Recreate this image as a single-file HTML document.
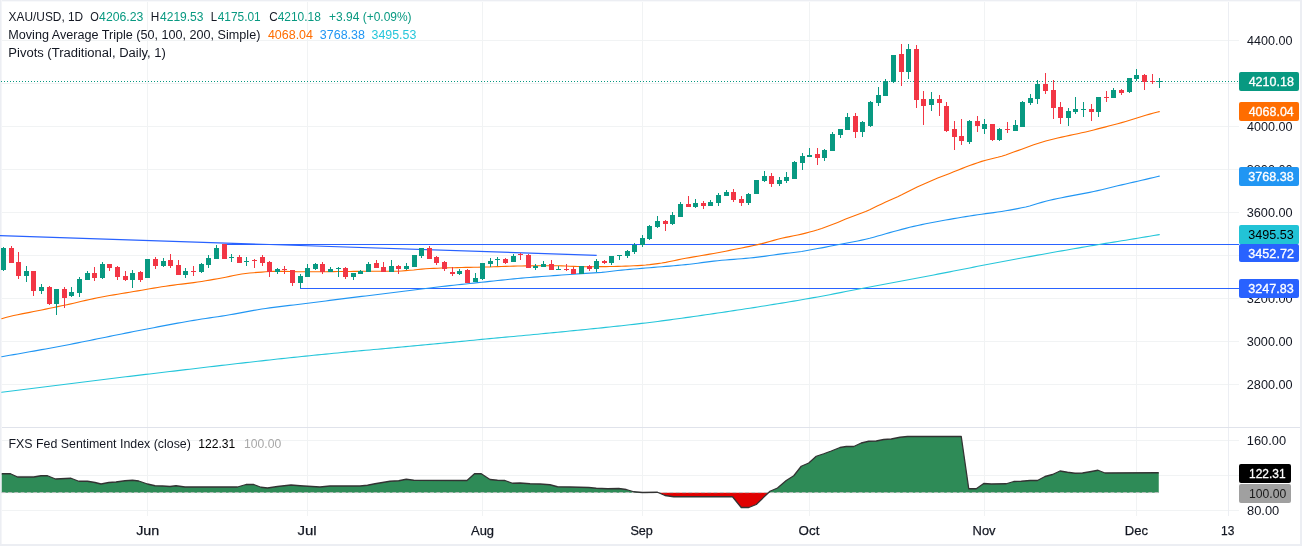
<!DOCTYPE html>
<html><head><meta charset="utf-8"><title>XAU/USD chart</title>
<style>html,body{margin:0;padding:0;background:#fff;}svg{display:block}</style></head>
<body><svg width="1302" height="546" viewBox="0 0 1302 546" font-family="Liberation Sans, sans-serif">
<rect width="1302" height="546" fill="#fff"/>
<g shape-rendering="crispEdges" fill="#f1f3f4">
<rect x="0" y="40" width="1239" height="1"/>
<rect x="0" y="83" width="1239" height="1"/>
<rect x="0" y="126" width="1239" height="1"/>
<rect x="0" y="169" width="1239" height="1"/>
<rect x="0" y="212" width="1239" height="1"/>
<rect x="0" y="255" width="1239" height="1"/>
<rect x="0" y="298" width="1239" height="1"/>
<rect x="0" y="341" width="1239" height="1"/>
<rect x="0" y="384" width="1239" height="1"/>
<rect x="0" y="440" width="1239" height="1"/>
<rect x="0" y="475" width="1239" height="1"/>
<rect x="0" y="510" width="1239" height="1"/>
<rect x="147" y="0" width="1" height="516"/>
<rect x="307" y="0" width="1" height="516"/>
<rect x="482" y="0" width="1" height="516"/>
<rect x="642" y="0" width="1" height="516"/>
<rect x="809" y="0" width="1" height="516"/>
<rect x="984" y="0" width="1" height="516"/>
<rect x="1136" y="0" width="1" height="516"/>
</g>
<g shape-rendering="crispEdges">
<rect x="1228" y="0" width="1" height="516" fill="#eceef3"/>
<rect x="0" y="427" width="1302" height="1" fill="#e0e3eb"/>
</g>
<g shape-rendering="crispEdges"><rect x="0" y="0" width="1302" height="1" fill="#eceef3"/><rect x="0" y="1" width="1302" height="1" fill="#f8f9fb"/><rect x="0" y="0" width="1" height="546" fill="#eceef3"/><rect x="1" y="0" width="1" height="546" fill="#f4f5f8"/><rect x="1300" y="0" width="2" height="546" fill="#eceef3"/><rect x="0" y="544" width="1302" height="2" fill="#eceef3"/></g>
<g shape-rendering="crispEdges" fill="#2962ff">
<rect x="224" y="244" width="1015" height="1"/>
<rect x="300" y="288" width="939" height="1"/>
</g>
<line x1="0" y1="235.6" x2="596.7" y2="255.3" stroke="#2962ff" stroke-width="1.2"/>
<polyline points="1.7,392.30 5.7,391.79 9.7,391.27 13.7,390.76 17.7,390.25 21.7,389.74 25.7,389.23 29.7,388.72 33.7,388.21 37.7,387.70 41.7,387.20 45.7,386.69 49.7,386.19 53.7,385.69 57.7,385.18 61.7,384.68 65.7,384.18 69.7,383.68 73.7,383.19 77.7,382.69 81.7,382.20 85.7,381.70 89.7,381.21 93.7,380.72 97.7,380.22 101.7,379.73 105.7,379.25 109.7,378.76 113.7,378.27 117.7,377.79 121.7,377.30 125.7,376.82 129.7,376.34 133.7,375.85 137.7,375.38 141.7,374.90 145.7,374.42 149.7,373.94 153.7,373.47 157.7,372.99 161.7,372.51 165.7,372.03 169.7,371.56 173.7,371.08 177.7,370.60 181.7,370.13 185.7,369.65 189.7,369.18 193.7,368.70 197.7,368.23 201.7,367.76 205.7,367.28 209.7,366.81 213.7,366.34 217.7,365.87 221.7,365.41 225.7,364.94 229.7,364.48 233.7,364.02 237.7,363.56 241.7,363.10 245.7,362.64 249.7,362.19 253.7,361.74 257.7,361.29 261.7,360.84 265.7,360.39 269.7,359.95 273.7,359.51 277.7,359.07 281.7,358.64 285.7,358.21 289.7,357.78 293.7,357.36 297.7,356.94 301.7,356.52 305.7,356.10 309.7,355.69 313.7,355.29 317.7,354.88 321.7,354.49 325.7,354.09 329.7,353.70 333.7,353.31 337.7,352.93 341.7,352.55 345.7,352.17 349.7,351.79 353.7,351.42 357.7,351.04 361.7,350.67 365.7,350.30 369.7,349.94 373.7,349.57 377.7,349.20 381.7,348.84 385.7,348.47 389.7,348.11 393.7,347.74 397.7,347.37 401.7,347.01 405.7,346.64 409.7,346.27 413.7,345.90 417.7,345.53 421.7,345.16 425.7,344.78 429.7,344.41 433.7,344.03 437.7,343.65 441.7,343.26 445.7,342.88 449.7,342.50 453.7,342.11 457.7,341.73 461.7,341.34 465.7,340.96 469.7,340.57 473.7,340.19 477.7,339.81 481.7,339.42 485.7,339.04 489.7,338.67 493.7,338.29 497.7,337.92 501.7,337.55 505.7,337.17 509.7,336.80 513.7,336.43 517.7,336.06 521.7,335.69 525.7,335.32 529.7,334.94 533.7,334.56 537.7,334.18 541.7,333.80 545.7,333.42 549.7,333.03 553.7,332.63 557.7,332.24 561.7,331.84 565.7,331.45 569.7,331.05 573.7,330.65 577.7,330.26 581.7,329.86 585.7,329.46 589.7,329.06 593.7,328.65 597.7,328.24 601.7,327.83 605.7,327.41 609.7,326.99 613.7,326.57 617.7,326.14 621.7,325.70 625.7,325.26 629.7,324.81 633.7,324.35 637.7,323.89 641.7,323.42 645.7,322.94 649.7,322.45 653.7,321.95 657.7,321.44 661.7,320.92 665.7,320.40 669.7,319.87 673.7,319.32 677.7,318.78 681.7,318.22 685.7,317.66 689.7,317.10 693.7,316.53 697.7,315.96 701.7,315.38 705.7,314.80 709.7,314.21 713.7,313.63 717.7,313.04 721.7,312.45 725.7,311.86 729.7,311.26 733.7,310.66 737.7,310.05 741.7,309.44 745.7,308.83 749.7,308.21 753.7,307.59 757.7,306.96 761.7,306.33 765.7,305.70 769.7,305.06 773.7,304.41 777.7,303.76 781.7,303.10 785.7,302.44 789.7,301.77 793.7,301.10 797.7,300.42 801.7,299.74 805.7,299.05 809.7,298.35 813.7,297.65 817.7,296.92 821.7,296.18 825.7,295.43 829.7,294.67 833.7,293.90 837.7,293.13 841.7,292.36 845.7,291.58 849.7,290.82 853.7,290.06 857.7,289.30 861.7,288.55 865.7,287.79 869.7,287.03 873.7,286.28 877.7,285.52 881.7,284.77 885.7,284.01 889.7,283.25 893.7,282.49 897.7,281.74 901.7,280.98 905.7,280.22 909.7,279.46 913.7,278.71 917.7,277.95 921.7,277.20 925.7,276.44 929.7,275.68 933.7,274.92 937.7,274.16 941.7,273.39 945.7,272.63 949.7,271.86 953.7,271.08 957.7,270.30 961.7,269.51 965.7,268.72 969.7,267.92 973.7,267.13 977.7,266.33 981.7,265.54 985.7,264.75 989.7,263.97 993.7,263.20 997.7,262.43 1001.7,261.68 1005.7,260.94 1009.7,260.20 1013.7,259.47 1017.7,258.75 1021.7,258.03 1025.7,257.31 1029.7,256.59 1033.7,255.87 1037.7,255.15 1041.7,254.44 1045.7,253.72 1049.7,253.00 1053.7,252.29 1057.7,251.58 1061.7,250.88 1065.7,250.17 1069.7,249.48 1073.7,248.78 1077.7,248.09 1081.7,247.40 1085.7,246.71 1089.7,246.03 1093.7,245.35 1097.7,244.68 1101.7,244.02 1105.7,243.37 1109.7,242.72 1113.7,242.09 1117.7,241.45 1121.7,240.82 1125.7,240.18 1129.7,239.54 1133.7,238.89 1137.7,238.23 1141.7,237.56 1145.7,236.90 1149.7,236.22 1153.7,235.55 1157.7,234.87 1159.3,234.60" fill="none" stroke="#26c6da" stroke-width="1.1" stroke-linejoin="round" stroke-linecap="round"/>
<polyline points="1.7,356.70 5.7,356.02 9.7,355.33 13.7,354.64 17.7,353.94 21.7,353.24 25.7,352.53 29.7,351.82 33.7,351.10 37.7,350.38 41.7,349.65 45.7,348.92 49.7,348.18 53.7,347.44 57.7,346.70 61.7,345.94 65.7,345.19 69.7,344.43 73.7,343.65 77.7,342.86 81.7,342.07 85.7,341.26 89.7,340.45 93.7,339.63 97.7,338.81 101.7,337.99 105.7,337.17 109.7,336.35 113.7,335.54 117.7,334.73 121.7,333.92 125.7,333.13 129.7,332.34 133.7,331.57 137.7,330.79 141.7,330.02 145.7,329.24 149.7,328.46 153.7,327.69 157.7,326.91 161.7,326.15 165.7,325.38 169.7,324.63 173.7,323.88 177.7,323.15 181.7,322.42 185.7,321.71 189.7,321.02 193.7,320.34 197.7,319.67 201.7,319.03 205.7,318.43 209.7,317.86 213.7,317.30 217.7,316.73 221.7,316.13 225.7,315.48 229.7,314.80 233.7,314.09 237.7,313.35 241.7,312.61 245.7,311.87 249.7,311.13 253.7,310.41 257.7,309.72 261.7,309.06 265.7,308.45 269.7,307.88 273.7,307.34 277.7,306.84 281.7,306.35 285.7,305.87 289.7,305.41 293.7,304.95 297.7,304.48 301.7,304.01 305.7,303.52 309.7,303.02 313.7,302.51 317.7,301.99 321.7,301.46 325.7,300.94 329.7,300.42 333.7,299.91 337.7,299.41 341.7,298.90 345.7,298.40 349.7,297.91 353.7,297.41 357.7,296.92 361.7,296.42 365.7,295.93 369.7,295.44 373.7,294.95 377.7,294.46 381.7,293.97 385.7,293.47 389.7,292.98 393.7,292.48 397.7,291.99 401.7,291.49 405.7,290.98 409.7,290.47 413.7,289.96 417.7,289.45 421.7,288.95 425.7,288.46 429.7,287.98 433.7,287.50 437.7,287.03 441.7,286.57 445.7,286.12 449.7,285.67 453.7,285.22 457.7,284.78 461.7,284.35 465.7,283.93 469.7,283.51 473.7,283.09 477.7,282.67 481.7,282.25 485.7,281.84 489.7,281.42 493.7,280.99 497.7,280.56 501.7,280.13 505.7,279.71 509.7,279.29 513.7,278.89 517.7,278.51 521.7,278.15 525.7,277.81 529.7,277.48 533.7,277.16 537.7,276.85 541.7,276.54 545.7,276.24 549.7,275.95 553.7,275.65 557.7,275.35 561.7,275.06 565.7,274.77 569.7,274.48 573.7,274.20 577.7,273.92 581.7,273.65 585.7,273.38 589.7,273.13 593.7,272.91 597.7,272.67 601.7,272.36 605.7,271.95 609.7,271.49 613.7,271.00 617.7,270.54 621.7,270.13 625.7,269.76 629.7,269.40 633.7,269.06 637.7,268.71 641.7,268.37 645.7,268.03 649.7,267.69 653.7,267.37 657.7,267.05 661.7,266.73 665.7,266.41 669.7,266.08 673.7,265.74 677.7,265.39 681.7,265.02 685.7,264.63 689.7,264.21 693.7,263.73 697.7,263.21 701.7,262.67 705.7,262.13 709.7,261.61 713.7,261.12 717.7,260.70 721.7,260.32 725.7,259.98 729.7,259.66 733.7,259.35 737.7,259.04 741.7,258.73 745.7,258.39 749.7,258.03 753.7,257.63 757.7,257.16 761.7,256.65 765.7,256.10 769.7,255.53 773.7,254.96 777.7,254.40 781.7,253.86 785.7,253.38 789.7,252.93 793.7,252.49 797.7,252.01 801.7,251.45 805.7,250.79 809.7,250.06 813.7,249.31 817.7,248.57 821.7,247.84 825.7,247.09 829.7,246.33 833.7,245.57 837.7,244.81 841.7,244.06 845.7,243.31 849.7,242.55 853.7,241.77 857.7,240.97 861.7,240.12 865.7,239.23 869.7,238.27 873.7,237.21 877.7,236.08 881.7,234.91 885.7,233.74 889.7,232.60 893.7,231.51 897.7,230.45 901.7,229.39 905.7,228.35 909.7,227.34 913.7,226.38 917.7,225.48 921.7,224.63 925.7,223.81 929.7,223.01 933.7,222.25 937.7,221.50 941.7,220.77 945.7,220.06 949.7,219.35 953.7,218.66 957.7,217.98 961.7,217.31 965.7,216.66 969.7,216.02 973.7,215.39 977.7,214.78 981.7,214.19 985.7,213.62 989.7,213.10 993.7,212.59 997.7,212.04 1001.7,211.43 1005.7,210.78 1009.7,210.10 1013.7,209.38 1017.7,208.61 1021.7,207.80 1025.7,206.93 1029.7,205.95 1033.7,204.81 1037.7,203.58 1041.7,202.37 1045.7,201.25 1049.7,200.28 1053.7,199.39 1057.7,198.53 1061.7,197.71 1065.7,196.90 1069.7,196.11 1073.7,195.35 1077.7,194.62 1081.7,193.90 1085.7,193.16 1089.7,192.38 1093.7,191.55 1097.7,190.65 1101.7,189.69 1105.7,188.70 1109.7,187.70 1113.7,186.71 1117.7,185.77 1121.7,184.85 1125.7,183.95 1129.7,183.05 1133.7,182.14 1137.7,181.21 1141.7,180.28 1145.7,179.34 1149.7,178.39 1153.7,177.44 1157.7,176.49 1159.3,176.10" fill="none" stroke="#2196f3" stroke-width="1.1" stroke-linejoin="round" stroke-linecap="round"/>
<polyline points="1.7,318.70 5.7,317.56 9.7,316.49 13.7,315.54 17.7,314.69 21.7,313.89 25.7,313.12 29.7,312.36 33.7,311.56 37.7,310.74 41.7,309.93 45.7,309.12 49.7,308.31 53.7,307.49 57.7,306.66 61.7,305.83 65.7,304.98 69.7,304.11 73.7,303.20 77.7,302.27 81.7,301.33 85.7,300.40 89.7,299.48 93.7,298.59 97.7,297.76 101.7,296.98 105.7,296.24 109.7,295.54 113.7,294.86 117.7,294.20 121.7,293.55 125.7,292.90 129.7,292.25 133.7,291.58 137.7,290.90 141.7,290.20 145.7,289.50 149.7,288.81 153.7,288.12 157.7,287.45 161.7,286.81 165.7,286.19 169.7,285.62 173.7,285.08 177.7,284.57 181.7,284.08 185.7,283.60 189.7,283.10 193.7,282.59 197.7,282.04 201.7,281.44 205.7,280.79 209.7,280.10 213.7,279.39 217.7,278.67 221.7,277.94 225.7,277.19 229.7,276.40 233.7,275.55 237.7,274.73 241.7,274.02 245.7,273.51 249.7,273.07 253.7,272.69 257.7,272.37 261.7,272.08 265.7,271.79 269.7,271.52 273.7,271.35 277.7,271.30 281.7,271.34 285.7,271.40 289.7,271.49 293.7,271.59 297.7,271.68 301.7,271.75 305.7,271.80 309.7,271.80 313.7,271.78 317.7,271.76 321.7,271.72 325.7,271.68 329.7,271.64 333.7,271.59 337.7,271.55 341.7,271.51 345.7,271.47 349.7,271.43 353.7,271.39 357.7,271.34 361.7,271.29 365.7,271.25 369.7,271.22 373.7,271.20 377.7,271.20 381.7,271.22 385.7,271.26 389.7,271.29 393.7,271.30 397.7,271.18 401.7,270.94 405.7,270.63 409.7,270.32 413.7,269.98 417.7,269.55 421.7,269.13 425.7,268.78 429.7,268.55 433.7,268.36 437.7,268.19 441.7,268.04 445.7,267.91 449.7,267.79 453.7,267.68 457.7,267.58 461.7,267.50 465.7,267.42 469.7,267.34 473.7,267.27 477.7,267.20 481.7,267.12 485.7,267.03 489.7,266.93 493.7,266.80 497.7,266.67 501.7,266.52 505.7,266.38 509.7,266.25 513.7,266.13 517.7,266.04 521.7,265.98 525.7,265.92 529.7,265.87 533.7,265.82 537.7,265.78 541.7,265.75 545.7,265.72 549.7,265.70 553.7,265.70 557.7,265.75 561.7,265.86 565.7,266.01 569.7,266.19 573.7,266.36 577.7,266.52 581.7,266.63 585.7,266.70 589.7,266.70 593.7,266.68 597.7,266.66 601.7,266.63 605.7,266.59 609.7,266.54 613.7,266.49 617.7,266.42 621.7,266.31 625.7,266.17 629.7,266.00 633.7,265.80 637.7,265.59 641.7,265.35 645.7,265.06 649.7,264.66 653.7,264.17 657.7,263.63 661.7,263.04 665.7,262.35 669.7,261.55 673.7,260.71 677.7,259.86 681.7,259.05 685.7,258.30 689.7,257.59 693.7,256.89 697.7,256.21 701.7,255.53 705.7,254.85 709.7,254.16 713.7,253.46 717.7,252.73 721.7,251.97 725.7,251.18 729.7,250.37 733.7,249.56 737.7,248.75 741.7,247.96 745.7,247.15 749.7,246.34 753.7,245.49 757.7,244.60 761.7,243.65 765.7,242.60 769.7,241.50 773.7,240.39 777.7,239.31 781.7,238.30 785.7,237.41 789.7,236.60 793.7,235.83 797.7,235.01 801.7,234.10 805.7,233.12 809.7,232.09 813.7,230.98 817.7,229.78 821.7,228.47 825.7,227.05 829.7,225.56 833.7,224.03 837.7,222.42 841.7,220.74 845.7,219.05 849.7,217.42 853.7,215.89 857.7,214.44 861.7,212.97 865.7,211.41 869.7,209.68 873.7,207.79 877.7,205.83 881.7,203.90 885.7,202.08 889.7,200.33 893.7,198.59 897.7,196.79 901.7,194.85 905.7,192.73 909.7,190.65 913.7,188.71 917.7,186.81 921.7,184.96 925.7,183.16 929.7,181.41 933.7,179.71 937.7,178.08 941.7,176.52 945.7,174.97 949.7,173.42 953.7,171.82 957.7,170.21 961.7,168.62 965.7,167.07 969.7,165.58 973.7,164.11 977.7,162.69 981.7,161.39 985.7,160.25 989.7,159.26 993.7,158.33 997.7,157.34 1001.7,156.19 1005.7,154.90 1009.7,153.51 1013.7,152.07 1017.7,150.64 1021.7,149.16 1025.7,147.65 1029.7,146.16 1033.7,144.76 1037.7,143.43 1041.7,142.16 1045.7,140.98 1049.7,139.91 1053.7,138.93 1057.7,138.01 1061.7,137.11 1065.7,136.22 1069.7,135.34 1073.7,134.50 1077.7,133.67 1081.7,132.82 1085.7,131.93 1089.7,130.97 1093.7,129.94 1097.7,128.90 1101.7,127.87 1105.7,126.85 1109.7,125.84 1113.7,124.80 1117.7,123.73 1121.7,122.61 1125.7,121.46 1129.7,120.29 1133.7,119.09 1137.7,117.83 1141.7,116.54 1145.7,115.29 1149.7,114.14 1153.7,113.05 1157.7,112.00 1159.3,111.60" fill="none" stroke="#ff6d00" stroke-width="1.1" stroke-linejoin="round" stroke-linecap="round"/>
<g shape-rendering="crispEdges"><line x1="1" y1="81.5" x2="1239" y2="81.5" stroke="#089981" stroke-width="1" stroke-dasharray="1 2"/></g>
<g shape-rendering="crispEdges">
<rect x="3" y="247" width="1" height="24" fill="#089981"/>
<rect x="1" y="248" width="5" height="22" fill="#089981"/>
<rect x="11" y="246" width="1" height="17" fill="#f23645"/>
<rect x="9" y="248" width="5" height="15" fill="#f23645"/>
<rect x="18" y="252" width="1" height="27" fill="#f23645"/>
<rect x="16" y="262" width="5" height="14" fill="#f23645"/>
<rect x="26" y="266" width="1" height="16" fill="#089981"/>
<rect x="24" y="271" width="5" height="5" fill="#089981"/>
<rect x="33" y="271" width="1" height="25" fill="#f23645"/>
<rect x="31" y="271" width="5" height="20" fill="#f23645"/>
<rect x="41" y="284" width="1" height="10" fill="#089981"/>
<rect x="39" y="287" width="5" height="4" fill="#089981"/>
<rect x="49" y="286" width="1" height="19" fill="#f23645"/>
<rect x="47" y="287" width="5" height="17" fill="#f23645"/>
<rect x="56" y="289" width="1" height="26" fill="#089981"/>
<rect x="54" y="289" width="5" height="15" fill="#089981"/>
<rect x="64" y="287" width="1" height="21" fill="#f23645"/>
<rect x="62" y="289" width="5" height="9" fill="#f23645"/>
<rect x="71" y="287" width="1" height="10" fill="#089981"/>
<rect x="69" y="292" width="5" height="4" fill="#089981"/>
<rect x="79" y="277" width="1" height="20" fill="#089981"/>
<rect x="77" y="279" width="5" height="14" fill="#089981"/>
<rect x="87" y="271" width="1" height="9" fill="#089981"/>
<rect x="85" y="273" width="5" height="7" fill="#089981"/>
<rect x="94" y="267" width="1" height="14" fill="#f23645"/>
<rect x="92" y="273" width="5" height="5" fill="#f23645"/>
<rect x="102" y="262" width="1" height="17" fill="#089981"/>
<rect x="100" y="264" width="5" height="14" fill="#089981"/>
<rect x="109" y="264" width="1" height="7" fill="#f23645"/>
<rect x="107" y="264" width="5" height="4" fill="#f23645"/>
<rect x="117" y="266" width="1" height="14" fill="#f23645"/>
<rect x="115" y="267" width="5" height="10" fill="#f23645"/>
<rect x="125" y="271" width="1" height="10" fill="#f23645"/>
<rect x="123" y="276" width="5" height="4" fill="#f23645"/>
<rect x="132" y="270" width="1" height="18" fill="#089981"/>
<rect x="130" y="273" width="5" height="7" fill="#089981"/>
<rect x="140" y="271" width="1" height="11" fill="#f23645"/>
<rect x="138" y="272" width="5" height="8" fill="#f23645"/>
<rect x="147" y="259" width="1" height="19" fill="#089981"/>
<rect x="145" y="259" width="5" height="19" fill="#089981"/>
<rect x="155" y="257" width="1" height="12" fill="#f23645"/>
<rect x="153" y="259" width="5" height="7" fill="#f23645"/>
<rect x="163" y="258" width="1" height="9" fill="#089981"/>
<rect x="161" y="261" width="5" height="5" fill="#089981"/>
<rect x="170" y="254" width="1" height="14" fill="#f23645"/>
<rect x="168" y="260" width="5" height="6" fill="#f23645"/>
<rect x="178" y="260" width="1" height="15" fill="#f23645"/>
<rect x="176" y="265" width="5" height="10" fill="#f23645"/>
<rect x="185" y="268" width="1" height="10" fill="#089981"/>
<rect x="183" y="271" width="5" height="4" fill="#089981"/>
<rect x="193" y="266" width="1" height="10" fill="#f23645"/>
<rect x="191" y="271" width="5" height="1" fill="#f23645"/>
<rect x="201" y="263" width="1" height="10" fill="#089981"/>
<rect x="199" y="264" width="5" height="8" fill="#089981"/>
<rect x="208" y="255" width="1" height="13" fill="#089981"/>
<rect x="206" y="258" width="5" height="7" fill="#089981"/>
<rect x="216" y="245" width="1" height="14" fill="#089981"/>
<rect x="214" y="248" width="5" height="11" fill="#089981"/>
<rect x="224" y="244" width="1" height="15" fill="#f23645"/>
<rect x="222" y="244" width="5" height="15" fill="#f23645"/>
<rect x="231" y="254" width="1" height="8" fill="#089981"/>
<rect x="229" y="257" width="5" height="1" fill="#089981"/>
<rect x="239" y="255" width="1" height="8" fill="#f23645"/>
<rect x="237" y="257" width="5" height="6" fill="#f23645"/>
<rect x="246" y="257" width="1" height="9" fill="#089981"/>
<rect x="244" y="261" width="5" height="1" fill="#089981"/>
<rect x="254" y="259" width="1" height="9" fill="#f23645"/>
<rect x="252" y="260" width="5" height="1" fill="#f23645"/>
<rect x="262" y="255" width="1" height="11" fill="#f23645"/>
<rect x="260" y="257" width="5" height="6" fill="#f23645"/>
<rect x="269" y="261" width="1" height="16" fill="#f23645"/>
<rect x="267" y="262" width="5" height="10" fill="#f23645"/>
<rect x="277" y="268" width="1" height="6" fill="#089981"/>
<rect x="275" y="269" width="5" height="3" fill="#089981"/>
<rect x="284" y="266" width="1" height="8" fill="#f23645"/>
<rect x="282" y="269" width="5" height="1" fill="#f23645"/>
<rect x="292" y="270" width="1" height="16" fill="#f23645"/>
<rect x="290" y="270" width="5" height="13" fill="#f23645"/>
<rect x="300" y="274" width="1" height="14" fill="#089981"/>
<rect x="298" y="276" width="5" height="7" fill="#089981"/>
<rect x="307" y="264" width="1" height="13" fill="#089981"/>
<rect x="305" y="268" width="5" height="9" fill="#089981"/>
<rect x="315" y="263" width="1" height="7" fill="#089981"/>
<rect x="313" y="264" width="5" height="5" fill="#089981"/>
<rect x="322" y="262" width="1" height="12" fill="#f23645"/>
<rect x="320" y="264" width="5" height="8" fill="#f23645"/>
<rect x="330" y="267" width="1" height="5" fill="#089981"/>
<rect x="328" y="269" width="5" height="3" fill="#089981"/>
<rect x="338" y="267" width="1" height="10" fill="#089981"/>
<rect x="336" y="268" width="5" height="1" fill="#089981"/>
<rect x="345" y="267" width="1" height="12" fill="#f23645"/>
<rect x="343" y="268" width="5" height="9" fill="#f23645"/>
<rect x="353" y="273" width="1" height="7" fill="#089981"/>
<rect x="351" y="273" width="5" height="4" fill="#089981"/>
<rect x="360" y="270" width="1" height="4" fill="#089981"/>
<rect x="358" y="271" width="5" height="3" fill="#089981"/>
<rect x="368" y="262" width="1" height="10" fill="#089981"/>
<rect x="366" y="264" width="5" height="8" fill="#089981"/>
<rect x="376" y="260" width="1" height="8" fill="#f23645"/>
<rect x="374" y="263" width="5" height="5" fill="#f23645"/>
<rect x="383" y="262" width="1" height="10" fill="#f23645"/>
<rect x="381" y="267" width="5" height="5" fill="#f23645"/>
<rect x="391" y="260" width="1" height="12" fill="#089981"/>
<rect x="389" y="266" width="5" height="6" fill="#089981"/>
<rect x="398" y="265" width="1" height="9" fill="#f23645"/>
<rect x="396" y="266" width="5" height="3" fill="#f23645"/>
<rect x="406" y="263" width="1" height="7" fill="#089981"/>
<rect x="404" y="266" width="5" height="3" fill="#089981"/>
<rect x="414" y="255" width="1" height="12" fill="#089981"/>
<rect x="412" y="255" width="5" height="12" fill="#089981"/>
<rect x="421" y="248" width="1" height="10" fill="#089981"/>
<rect x="419" y="248" width="5" height="8" fill="#089981"/>
<rect x="429" y="246" width="1" height="13" fill="#f23645"/>
<rect x="427" y="248" width="5" height="11" fill="#f23645"/>
<rect x="436" y="256" width="1" height="9" fill="#f23645"/>
<rect x="434" y="257" width="5" height="6" fill="#f23645"/>
<rect x="444" y="261" width="1" height="10" fill="#f23645"/>
<rect x="442" y="262" width="5" height="7" fill="#f23645"/>
<rect x="452" y="267" width="1" height="9" fill="#f23645"/>
<rect x="450" y="272" width="5" height="2" fill="#f23645"/>
<rect x="459" y="269" width="1" height="6" fill="#089981"/>
<rect x="457" y="271" width="5" height="3" fill="#089981"/>
<rect x="467" y="269" width="1" height="14" fill="#f23645"/>
<rect x="465" y="270" width="5" height="13" fill="#f23645"/>
<rect x="475" y="273" width="1" height="9" fill="#089981"/>
<rect x="473" y="278" width="5" height="4" fill="#089981"/>
<rect x="482" y="263" width="1" height="17" fill="#089981"/>
<rect x="480" y="263" width="5" height="16" fill="#089981"/>
<rect x="490" y="258" width="1" height="9" fill="#089981"/>
<rect x="488" y="261" width="5" height="3" fill="#089981"/>
<rect x="497" y="257" width="1" height="9" fill="#089981"/>
<rect x="495" y="259" width="5" height="1" fill="#089981"/>
<rect x="505" y="258" width="1" height="6" fill="#f23645"/>
<rect x="503" y="259" width="5" height="4" fill="#f23645"/>
<rect x="513" y="254" width="1" height="8" fill="#089981"/>
<rect x="511" y="256" width="5" height="6" fill="#089981"/>
<rect x="520" y="253" width="1" height="7" fill="#f23645"/>
<rect x="518" y="254" width="5" height="1" fill="#f23645"/>
<rect x="528" y="254" width="1" height="14" fill="#f23645"/>
<rect x="526" y="255" width="5" height="13" fill="#f23645"/>
<rect x="535" y="264" width="1" height="6" fill="#089981"/>
<rect x="533" y="266" width="5" height="2" fill="#089981"/>
<rect x="543" y="261" width="1" height="6" fill="#089981"/>
<rect x="541" y="264" width="5" height="3" fill="#089981"/>
<rect x="551" y="260" width="1" height="10" fill="#f23645"/>
<rect x="549" y="264" width="5" height="6" fill="#f23645"/>
<rect x="558" y="266" width="1" height="4" fill="#089981"/>
<rect x="556" y="269" width="5" height="1" fill="#089981"/>
<rect x="566" y="264" width="1" height="7" fill="#f23645"/>
<rect x="564" y="269" width="5" height="1" fill="#f23645"/>
<rect x="573" y="267" width="1" height="7" fill="#f23645"/>
<rect x="571" y="269" width="5" height="5" fill="#f23645"/>
<rect x="581" y="266" width="1" height="8" fill="#089981"/>
<rect x="579" y="266" width="5" height="8" fill="#089981"/>
<rect x="589" y="265" width="1" height="6" fill="#f23645"/>
<rect x="587" y="266" width="5" height="3" fill="#f23645"/>
<rect x="596" y="259" width="1" height="13" fill="#089981"/>
<rect x="594" y="261" width="5" height="8" fill="#089981"/>
<rect x="604" y="260" width="1" height="4" fill="#f23645"/>
<rect x="602" y="261" width="5" height="2" fill="#f23645"/>
<rect x="611" y="256" width="1" height="9" fill="#089981"/>
<rect x="609" y="256" width="5" height="7" fill="#089981"/>
<rect x="619" y="255" width="1" height="5" fill="#089981"/>
<rect x="617" y="255" width="5" height="1" fill="#089981"/>
<rect x="627" y="250" width="1" height="8" fill="#089981"/>
<rect x="625" y="251" width="5" height="5" fill="#089981"/>
<rect x="634" y="243" width="1" height="11" fill="#089981"/>
<rect x="632" y="245" width="5" height="7" fill="#089981"/>
<rect x="642" y="235" width="1" height="12" fill="#089981"/>
<rect x="640" y="238" width="5" height="7" fill="#089981"/>
<rect x="649" y="225" width="1" height="15" fill="#089981"/>
<rect x="647" y="226" width="5" height="13" fill="#089981"/>
<rect x="657" y="216" width="1" height="12" fill="#089981"/>
<rect x="655" y="221" width="5" height="6" fill="#089981"/>
<rect x="665" y="220" width="1" height="11" fill="#f23645"/>
<rect x="663" y="221" width="5" height="3" fill="#f23645"/>
<rect x="672" y="212" width="1" height="13" fill="#089981"/>
<rect x="670" y="215" width="5" height="9" fill="#089981"/>
<rect x="680" y="202" width="1" height="15" fill="#089981"/>
<rect x="678" y="204" width="5" height="13" fill="#089981"/>
<rect x="688" y="196" width="1" height="11" fill="#f23645"/>
<rect x="686" y="204" width="5" height="3" fill="#f23645"/>
<rect x="695" y="199" width="1" height="9" fill="#089981"/>
<rect x="693" y="203" width="5" height="4" fill="#089981"/>
<rect x="703" y="201" width="1" height="8" fill="#f23645"/>
<rect x="701" y="203" width="5" height="3" fill="#f23645"/>
<rect x="710" y="200" width="1" height="6" fill="#089981"/>
<rect x="708" y="202" width="5" height="4" fill="#089981"/>
<rect x="718" y="193" width="1" height="13" fill="#089981"/>
<rect x="716" y="195" width="5" height="8" fill="#089981"/>
<rect x="726" y="190" width="1" height="6" fill="#089981"/>
<rect x="724" y="192" width="5" height="4" fill="#089981"/>
<rect x="733" y="189" width="1" height="13" fill="#f23645"/>
<rect x="731" y="192" width="5" height="8" fill="#f23645"/>
<rect x="741" y="196" width="1" height="10" fill="#f23645"/>
<rect x="739" y="199" width="5" height="4" fill="#f23645"/>
<rect x="748" y="193" width="1" height="12" fill="#089981"/>
<rect x="746" y="194" width="5" height="9" fill="#089981"/>
<rect x="756" y="180" width="1" height="14" fill="#089981"/>
<rect x="754" y="180" width="5" height="14" fill="#089981"/>
<rect x="764" y="171" width="1" height="11" fill="#089981"/>
<rect x="762" y="176" width="5" height="5" fill="#089981"/>
<rect x="771" y="173" width="1" height="14" fill="#f23645"/>
<rect x="769" y="176" width="5" height="8" fill="#f23645"/>
<rect x="779" y="177" width="1" height="9" fill="#089981"/>
<rect x="777" y="180" width="5" height="4" fill="#089981"/>
<rect x="786" y="172" width="1" height="11" fill="#089981"/>
<rect x="784" y="177" width="5" height="4" fill="#089981"/>
<rect x="794" y="161" width="1" height="18" fill="#089981"/>
<rect x="792" y="162" width="5" height="17" fill="#089981"/>
<rect x="802" y="153" width="1" height="17" fill="#089981"/>
<rect x="800" y="156" width="5" height="7" fill="#089981"/>
<rect x="809" y="148" width="1" height="9" fill="#089981"/>
<rect x="807" y="155" width="5" height="2" fill="#089981"/>
<rect x="817" y="148" width="1" height="17" fill="#f23645"/>
<rect x="815" y="154" width="5" height="4" fill="#f23645"/>
<rect x="824" y="149" width="1" height="12" fill="#089981"/>
<rect x="822" y="150" width="5" height="8" fill="#089981"/>
<rect x="832" y="132" width="1" height="19" fill="#089981"/>
<rect x="830" y="134" width="5" height="17" fill="#089981"/>
<rect x="840" y="129" width="1" height="9" fill="#089981"/>
<rect x="838" y="129" width="5" height="6" fill="#089981"/>
<rect x="847" y="113" width="1" height="17" fill="#089981"/>
<rect x="845" y="117" width="5" height="13" fill="#089981"/>
<rect x="855" y="113" width="1" height="25" fill="#f23645"/>
<rect x="853" y="116" width="5" height="16" fill="#f23645"/>
<rect x="862" y="121" width="1" height="16" fill="#089981"/>
<rect x="860" y="122" width="5" height="10" fill="#089981"/>
<rect x="870" y="101" width="1" height="26" fill="#089981"/>
<rect x="868" y="102" width="5" height="24" fill="#089981"/>
<rect x="878" y="87" width="1" height="19" fill="#089981"/>
<rect x="876" y="95" width="5" height="8" fill="#089981"/>
<rect x="885" y="79" width="1" height="17" fill="#089981"/>
<rect x="883" y="81" width="5" height="15" fill="#089981"/>
<rect x="893" y="55" width="1" height="28" fill="#089981"/>
<rect x="891" y="55" width="5" height="27" fill="#089981"/>
<rect x="901" y="44" width="1" height="42" fill="#f23645"/>
<rect x="899" y="54" width="5" height="18" fill="#f23645"/>
<rect x="908" y="44" width="1" height="35" fill="#089981"/>
<rect x="906" y="49" width="5" height="23" fill="#089981"/>
<rect x="916" y="45" width="1" height="63" fill="#f23645"/>
<rect x="914" y="49" width="5" height="51" fill="#f23645"/>
<rect x="923" y="91" width="1" height="34" fill="#f23645"/>
<rect x="921" y="99" width="5" height="7" fill="#f23645"/>
<rect x="931" y="92" width="1" height="19" fill="#089981"/>
<rect x="929" y="99" width="5" height="6" fill="#089981"/>
<rect x="939" y="95" width="1" height="21" fill="#f23645"/>
<rect x="937" y="99" width="5" height="4" fill="#f23645"/>
<rect x="946" y="102" width="1" height="30" fill="#f23645"/>
<rect x="944" y="106" width="5" height="25" fill="#f23645"/>
<rect x="954" y="121" width="1" height="29" fill="#f23645"/>
<rect x="952" y="129" width="5" height="8" fill="#f23645"/>
<rect x="961" y="119" width="1" height="26" fill="#f23645"/>
<rect x="959" y="136" width="5" height="5" fill="#f23645"/>
<rect x="969" y="120" width="1" height="24" fill="#089981"/>
<rect x="967" y="121" width="5" height="21" fill="#089981"/>
<rect x="977" y="116" width="1" height="16" fill="#f23645"/>
<rect x="975" y="121" width="5" height="5" fill="#f23645"/>
<rect x="984" y="119" width="1" height="15" fill="#089981"/>
<rect x="982" y="124" width="5" height="5" fill="#089981"/>
<rect x="992" y="124" width="1" height="17" fill="#f23645"/>
<rect x="990" y="124" width="5" height="16" fill="#f23645"/>
<rect x="999" y="128" width="1" height="13" fill="#089981"/>
<rect x="997" y="129" width="5" height="11" fill="#089981"/>
<rect x="1007" y="122" width="1" height="11" fill="#f23645"/>
<rect x="1005" y="129" width="5" height="1" fill="#f23645"/>
<rect x="1015" y="120" width="1" height="11" fill="#089981"/>
<rect x="1013" y="125" width="5" height="6" fill="#089981"/>
<rect x="1022" y="101" width="1" height="26" fill="#089981"/>
<rect x="1020" y="102" width="5" height="25" fill="#089981"/>
<rect x="1030" y="94" width="1" height="11" fill="#089981"/>
<rect x="1028" y="98" width="5" height="5" fill="#089981"/>
<rect x="1037" y="80" width="1" height="24" fill="#089981"/>
<rect x="1035" y="84" width="5" height="15" fill="#089981"/>
<rect x="1045" y="73" width="1" height="21" fill="#f23645"/>
<rect x="1043" y="84" width="5" height="7" fill="#f23645"/>
<rect x="1053" y="80" width="1" height="39" fill="#f23645"/>
<rect x="1051" y="90" width="5" height="18" fill="#f23645"/>
<rect x="1060" y="102" width="1" height="22" fill="#f23645"/>
<rect x="1058" y="107" width="5" height="11" fill="#f23645"/>
<rect x="1068" y="108" width="1" height="18" fill="#089981"/>
<rect x="1066" y="111" width="5" height="7" fill="#089981"/>
<rect x="1075" y="97" width="1" height="17" fill="#089981"/>
<rect x="1073" y="109" width="5" height="3" fill="#089981"/>
<rect x="1083" y="102" width="1" height="15" fill="#089981"/>
<rect x="1081" y="109" width="5" height="1" fill="#089981"/>
<rect x="1091" y="104" width="1" height="17" fill="#f23645"/>
<rect x="1089" y="109" width="5" height="3" fill="#f23645"/>
<rect x="1098" y="97" width="1" height="20" fill="#089981"/>
<rect x="1096" y="97" width="5" height="15" fill="#089981"/>
<rect x="1106" y="91" width="1" height="11" fill="#f23645"/>
<rect x="1104" y="97" width="5" height="1" fill="#f23645"/>
<rect x="1113" y="88" width="1" height="10" fill="#089981"/>
<rect x="1111" y="90" width="5" height="8" fill="#089981"/>
<rect x="1121" y="89" width="1" height="6" fill="#f23645"/>
<rect x="1119" y="90" width="5" height="3" fill="#f23645"/>
<rect x="1129" y="78" width="1" height="15" fill="#089981"/>
<rect x="1127" y="78" width="5" height="14" fill="#089981"/>
<rect x="1136" y="69" width="1" height="12" fill="#089981"/>
<rect x="1134" y="75" width="5" height="4" fill="#089981"/>
<rect x="1144" y="74" width="1" height="16" fill="#f23645"/>
<rect x="1142" y="75" width="5" height="7" fill="#f23645"/>
<rect x="1152" y="74" width="1" height="10" fill="#f23645"/>
<rect x="1150" y="81" width="5" height="1" fill="#f23645"/>
<rect x="1159" y="78" width="1" height="10" fill="#089981"/>
<rect x="1157" y="81" width="5" height="1" fill="#089981"/>
</g>
<path d="M1.75,473.75 L10.50,473.75 L17.50,477.00 L33.75,477.00 L41.00,475.75 L47.50,475.75 L55.50,479.00 L71.00,478.25 L78.75,481.25 L87.50,481.25 L95.00,482.50 L101.00,484.00 L108.75,482.50 L116.00,482.00 L125.00,480.75 L132.50,480.25 L138.75,481.00 L147.50,484.00 L155.00,485.75 L162.50,486.00 L170.00,486.50 L176.00,485.75 L185.00,487.00 L237.50,487.00 L246.00,484.50 L253.75,484.50 L261.00,487.25 L267.50,488.00 L277.50,486.50 L291.00,485.00 L300.00,485.75 L320.00,487.00 L330.00,486.00 L360.00,486.00 L367.50,485.25 L375.00,483.75 L382.50,482.50 L390.00,481.25 L398.75,480.75 L406.25,479.25 L413.75,480.25 L467.00,480.50 L474.50,473.75 L481.25,473.75 L490.00,479.50 L497.50,480.25 L505.00,480.50 L512.50,483.25 L520.00,483.00 L530.00,483.75 L540.00,484.00 L550.00,484.75 L557.50,486.75 L570.00,487.00 L588.75,487.50 L596.25,488.25 L607.50,488.75 L618.75,488.50 L626.25,489.50 L633.75,491.75 L642.50,492.50 L657.50,492.25 L658.54,492.70 L665.00,492.70 L673.75,492.70 L732.50,492.70 L741.25,492.70 L748.75,492.70 L756.25,492.70 L768.50,492.70 L770.00,491.25 L777.50,488.00 L786.25,480.50 L793.75,475.75 L801.25,466.25 L808.75,463.00 L816.25,456.25 L823.75,453.75 L831.25,451.00 L840.00,447.50 L846.25,446.50 L853.75,446.50 L861.25,443.00 L868.75,441.25 L876.25,441.00 L883.75,439.50 L891.25,439.00 L900.00,437.25 L907.50,436.50 L961.25,436.50 L968.75,488.75 L976.25,488.75 L983.75,483.50 L991.25,484.00 L1006.25,483.75 L1013.75,481.50 L1021.25,481.25 L1030.00,480.50 L1037.50,480.50 L1045.00,476.50 L1052.50,474.50 L1060.00,471.00 L1067.50,472.25 L1075.00,473.25 L1082.50,473.00 L1090.00,471.75 L1098.00,470.25 L1105.00,473.00 L1158.75,472.75 L1158.75,492.7 L1.75,492.7 Z" fill="#2e8b57"/>
<path d="M1.75,492.70 L10.50,492.70 L17.50,492.70 L33.75,492.70 L41.00,492.70 L47.50,492.70 L55.50,492.70 L71.00,492.70 L78.75,492.70 L87.50,492.70 L95.00,492.70 L101.00,492.70 L108.75,492.70 L116.00,492.70 L125.00,492.70 L132.50,492.70 L138.75,492.70 L147.50,492.70 L155.00,492.70 L162.50,492.70 L170.00,492.70 L176.00,492.70 L185.00,492.70 L237.50,492.70 L246.00,492.70 L253.75,492.70 L261.00,492.70 L267.50,492.70 L277.50,492.70 L291.00,492.70 L300.00,492.70 L320.00,492.70 L330.00,492.70 L360.00,492.70 L367.50,492.70 L375.00,492.70 L382.50,492.70 L390.00,492.70 L398.75,492.70 L406.25,492.70 L413.75,492.70 L467.00,492.70 L474.50,492.70 L481.25,492.70 L490.00,492.70 L497.50,492.70 L505.00,492.70 L512.50,492.70 L520.00,492.70 L530.00,492.70 L540.00,492.70 L550.00,492.70 L557.50,492.70 L570.00,492.70 L588.75,492.70 L596.25,492.70 L607.50,492.70 L618.75,492.70 L626.25,492.70 L633.75,492.70 L642.50,492.70 L657.50,492.70 L658.54,492.70 L665.00,495.50 L673.75,496.75 L732.50,496.75 L741.25,507.50 L748.75,507.50 L756.25,504.50 L768.50,492.70 L770.00,492.70 L777.50,492.70 L786.25,492.70 L793.75,492.70 L801.25,492.70 L808.75,492.70 L816.25,492.70 L823.75,492.70 L831.25,492.70 L840.00,492.70 L846.25,492.70 L853.75,492.70 L861.25,492.70 L868.75,492.70 L876.25,492.70 L883.75,492.70 L891.25,492.70 L900.00,492.70 L907.50,492.70 L961.25,492.70 L968.75,492.70 L976.25,492.70 L983.75,492.70 L991.25,492.70 L1006.25,492.70 L1013.75,492.70 L1021.25,492.70 L1030.00,492.70 L1037.50,492.70 L1045.00,492.70 L1052.50,492.70 L1060.00,492.70 L1067.50,492.70 L1075.00,492.70 L1082.50,492.70 L1090.00,492.70 L1098.00,492.70 L1105.00,492.70 L1158.75,492.70 L1158.75,492.7 L1.75,492.7 Z" fill="#e00000"/>
<line x1="1.75" y1="492.59999999999997" x2="1158.75" y2="492.59999999999997" stroke="#c0c0c0" stroke-width="1" stroke-dasharray="3.8 2.5"/>
<path d="M1.75,473.75 L10.50,473.75 L17.50,477.00 L33.75,477.00 L41.00,475.75 L47.50,475.75 L55.50,479.00 L71.00,478.25 L78.75,481.25 L87.50,481.25 L95.00,482.50 L101.00,484.00 L108.75,482.50 L116.00,482.00 L125.00,480.75 L132.50,480.25 L138.75,481.00 L147.50,484.00 L155.00,485.75 L162.50,486.00 L170.00,486.50 L176.00,485.75 L185.00,487.00 L237.50,487.00 L246.00,484.50 L253.75,484.50 L261.00,487.25 L267.50,488.00 L277.50,486.50 L291.00,485.00 L300.00,485.75 L320.00,487.00 L330.00,486.00 L360.00,486.00 L367.50,485.25 L375.00,483.75 L382.50,482.50 L390.00,481.25 L398.75,480.75 L406.25,479.25 L413.75,480.25 L467.00,480.50 L474.50,473.75 L481.25,473.75 L490.00,479.50 L497.50,480.25 L505.00,480.50 L512.50,483.25 L520.00,483.00 L530.00,483.75 L540.00,484.00 L550.00,484.75 L557.50,486.75 L570.00,487.00 L588.75,487.50 L596.25,488.25 L607.50,488.75 L618.75,488.50 L626.25,489.50 L633.75,491.75 L642.50,492.50 L657.50,492.25 L665.00,495.50 L673.75,496.75 L732.50,496.75 L741.25,507.50 L748.75,507.50 L756.25,504.50 L770.00,491.25 L777.50,488.00 L786.25,480.50 L793.75,475.75 L801.25,466.25 L808.75,463.00 L816.25,456.25 L823.75,453.75 L831.25,451.00 L840.00,447.50 L846.25,446.50 L853.75,446.50 L861.25,443.00 L868.75,441.25 L876.25,441.00 L883.75,439.50 L891.25,439.00 L900.00,437.25 L907.50,436.50 L961.25,436.50 L968.75,488.75 L976.25,488.75 L983.75,483.50 L991.25,484.00 L1006.25,483.75 L1013.75,481.50 L1021.25,481.25 L1030.00,480.50 L1037.50,480.50 L1045.00,476.50 L1052.50,474.50 L1060.00,471.00 L1067.50,472.25 L1075.00,473.25 L1082.50,473.00 L1090.00,471.75 L1098.00,470.25 L1105.00,473.00 L1158.75,472.75" fill="none" stroke="#333" stroke-width="1.3" stroke-linejoin="round"/>
<text x="1247.14" y="45.02" font-size="12.5" fill="#131722" textLength="45.47" lengthAdjust="spacingAndGlyphs">4400.00</text>
<text x="1247.14" y="131.03" font-size="12.5" fill="#131722" textLength="45.47" lengthAdjust="spacingAndGlyphs">4000.00</text>
<text x="1246.70" y="174.03" font-size="12.5" fill="#131722" textLength="45.92" lengthAdjust="spacingAndGlyphs">3800.00</text>
<text x="1246.70" y="217.03" font-size="12.5" fill="#131722" textLength="45.92" lengthAdjust="spacingAndGlyphs">3600.00</text>
<text x="1246.70" y="260.02" font-size="12.5" fill="#131722" textLength="45.92" lengthAdjust="spacingAndGlyphs">3400.00</text>
<text x="1246.70" y="303.02" font-size="12.5" fill="#131722" textLength="45.92" lengthAdjust="spacingAndGlyphs">3200.00</text>
<text x="1246.70" y="346.02" font-size="12.5" fill="#131722" textLength="45.92" lengthAdjust="spacingAndGlyphs">3000.00</text>
<text x="1246.79" y="389.02" font-size="12.5" fill="#131722" textLength="45.84" lengthAdjust="spacingAndGlyphs">2800.00</text>
<text x="1246.83" y="445.02" font-size="12.5" fill="#131722" textLength="39.20" lengthAdjust="spacingAndGlyphs">160.00</text>
<text x="1246.83" y="480.02" font-size="12.5" fill="#131722" textLength="39.20" lengthAdjust="spacingAndGlyphs">120.00</text>
<text x="1247.02" y="515.02" font-size="12.5" fill="#131722" textLength="32.19" lengthAdjust="spacingAndGlyphs">80.00</text>
<rect x="1239" y="72" width="60" height="19" rx="2" fill="#089981"/>
<rect x="1239" y="102" width="60" height="19" rx="2" fill="#ff6d00"/>
<rect x="1239" y="167" width="60" height="19" rx="2" fill="#2196f3"/>
<rect x="1239" y="225" width="60" height="19.5" rx="2" fill="#22c3d6"/>
<rect x="1239" y="244" width="60" height="18" rx="2" fill="#2962ff"/>
<rect x="1239" y="279" width="60" height="19" rx="2" fill="#2962ff"/>
<rect x="1239" y="464" width="52" height="19" rx="2" fill="#000"/>
<rect x="1239" y="484" width="52" height="19" rx="2" fill="#a0a0a0"/>
<text x="8.58" y="21.04" font-size="12" fill="#131722" textLength="74.61" lengthAdjust="spacingAndGlyphs">XAU/USD, 1D</text>
<text x="90.30" y="21.04" font-size="12" fill="#131722" textLength="8.56" lengthAdjust="spacingAndGlyphs">O</text>
<text x="99.12" y="21.04" font-size="12" fill="#089981" textLength="44.26" lengthAdjust="spacingAndGlyphs">4206.23</text>
<text x="150.79" y="21.04" font-size="12" fill="#131722" textLength="8.54" lengthAdjust="spacingAndGlyphs">H</text>
<text x="160.02" y="21.04" font-size="12" fill="#089981" textLength="43.48" lengthAdjust="spacingAndGlyphs">4219.53</text>
<text x="210.69" y="21.04" font-size="12" fill="#131722" textLength="6.34" lengthAdjust="spacingAndGlyphs">L</text>
<text x="217.69" y="21.04" font-size="12" fill="#089981" textLength="43.00" lengthAdjust="spacingAndGlyphs">4175.01</text>
<text x="269.16" y="21.04" font-size="12" fill="#131722" textLength="8.47" lengthAdjust="spacingAndGlyphs">C</text>
<text x="277.63" y="21.04" font-size="12" fill="#089981" textLength="43.17" lengthAdjust="spacingAndGlyphs">4210.18</text>
<text x="329.09" y="21.04" font-size="12" fill="#089981" textLength="82.54" lengthAdjust="spacingAndGlyphs">+3.94 (+0.09%)</text>
<text x="8.29" y="39.34" font-size="12" fill="#131722" textLength="252.09" lengthAdjust="spacingAndGlyphs">Moving Average Triple (50, 100, 200, Simple)</text>
<text x="267.96" y="39.34" font-size="12" fill="#ff6d00" textLength="44.99" lengthAdjust="spacingAndGlyphs">4068.04</text>
<text x="319.88" y="39.34" font-size="12" fill="#2196f3" textLength="45.05" lengthAdjust="spacingAndGlyphs">3768.38</text>
<text x="371.58" y="39.34" font-size="12" fill="#26c6da" textLength="44.72" lengthAdjust="spacingAndGlyphs">3495.53</text>
<text x="8.34" y="57.44" font-size="12" fill="#131722" textLength="157.58" lengthAdjust="spacingAndGlyphs">Pivots (Traditional, Daily, 1)</text>
<text x="8.47" y="447.84" font-size="12" fill="#131722" textLength="182.37" lengthAdjust="spacingAndGlyphs">FXS Fed Sentiment Index (close)</text>
<text x="198.34" y="447.84" font-size="12" fill="#000" textLength="37.00" lengthAdjust="spacingAndGlyphs">122.31</text>
<text x="243.99" y="447.84" font-size="12" fill="#a8a8a8" textLength="37.18" lengthAdjust="spacingAndGlyphs">100.00</text>
<text x="1248.67" y="86.12" font-size="12.5" fill="#fff" stroke="#fff" stroke-width="0.3" textLength="45.22" lengthAdjust="spacingAndGlyphs">4210.18</text>
<text x="1248.69" y="116.12" font-size="12.5" fill="#fff" stroke="#fff" stroke-width="0.3" textLength="45.07" lengthAdjust="spacingAndGlyphs">4068.04</text>
<text x="1248.37" y="181.12" font-size="12.5" fill="#fff" stroke="#fff" stroke-width="0.3" textLength="45.52" lengthAdjust="spacingAndGlyphs">3768.38</text>
<text x="1248.37" y="239.32" font-size="12.5" fill="#000" textLength="45.46" lengthAdjust="spacingAndGlyphs">3495.53</text>
<text x="1248.37" y="257.62" font-size="12.5" fill="#fff" stroke="#fff" stroke-width="0.3" textLength="45.53" lengthAdjust="spacingAndGlyphs">3452.72</text>
<text x="1248.37" y="293.12" font-size="12.5" fill="#fff" stroke="#fff" stroke-width="0.3" textLength="45.46" lengthAdjust="spacingAndGlyphs">3247.83</text>
<text x="1249.03" y="478.12" font-size="12.5" fill="#fff" stroke="#fff" stroke-width="0.3" textLength="36.50" lengthAdjust="spacingAndGlyphs">122.31</text>
<text x="1249.00" y="498.12" font-size="12.5" fill="#1a1a1a" textLength="37.23" lengthAdjust="spacingAndGlyphs">100.00</text>
<text x="136.21" y="535.37" font-size="13.7" fill="#131722" stroke="#131722" stroke-width="0.25" textLength="23.08" lengthAdjust="spacingAndGlyphs">Jun</text>
<text x="297.50" y="535.07" font-size="13.7" fill="#131722" stroke="#131722" stroke-width="0.25" textLength="19.21" lengthAdjust="spacingAndGlyphs">Jul</text>
<text x="471.01" y="535.07" font-size="13.7" fill="#131722" stroke="#131722" stroke-width="0.25" textLength="23.07" lengthAdjust="spacingAndGlyphs">Aug</text>
<text x="630.41" y="535.07" font-size="13.7" fill="#131722" stroke="#131722" stroke-width="0.25" textLength="22.49" lengthAdjust="spacingAndGlyphs">Sep</text>
<text x="798.61" y="535.07" font-size="13.7" fill="#131722" stroke="#131722" stroke-width="0.25" textLength="20.79" lengthAdjust="spacingAndGlyphs">Oct</text>
<text x="972.58" y="535.07" font-size="13.7" fill="#131722" stroke="#131722" stroke-width="0.25" textLength="23.02" lengthAdjust="spacingAndGlyphs">Nov</text>
<text x="1124.74" y="535.07" font-size="13.7" fill="#131722" stroke="#131722" stroke-width="0.25" textLength="23.21" lengthAdjust="spacingAndGlyphs">Dec</text>
<text x="1221.06" y="535.07" font-size="13.7" fill="#131722" stroke="#131722" stroke-width="0.25" textLength="13.35" lengthAdjust="spacingAndGlyphs">13</text>
</svg></body></html>
